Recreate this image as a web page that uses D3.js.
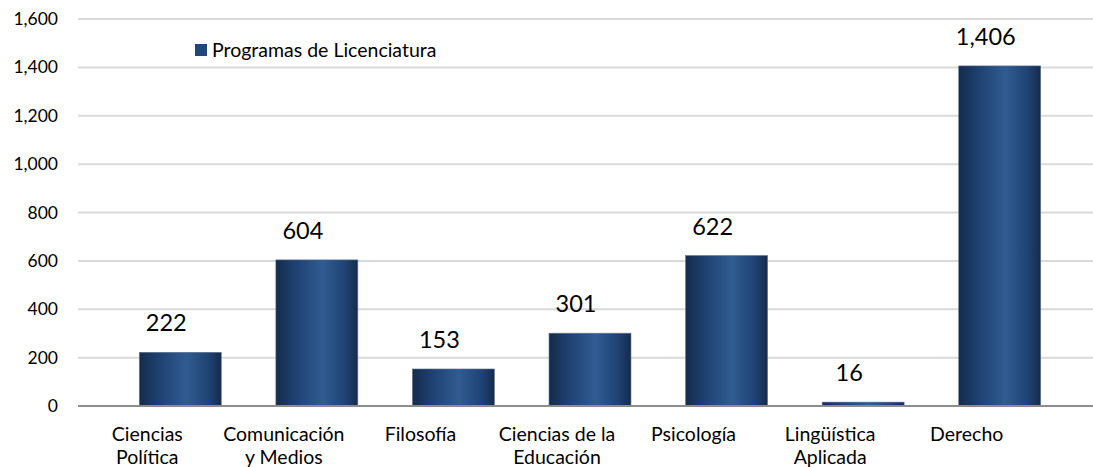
<!DOCTYPE html>
<html>
<head>
<meta charset="utf-8" />
<title></title>
<style>
html, body {
    padding: 0px;
    margin: 0px;
    background: #fff;
}
svg text {
    font-family: Lato, "Open Sans", sans-serif;
    fill: #000;
}
</style>
</head>
<body>
<div id="chart"></div>

<script src="https://cdnjs.cloudflare.com/ajax/libs/d3/7.8.5/d3.min.js"></script>
<script>
!(function(){
    "use strict";

    var categories = ["Ciencias Política", "Comunicación y Medios", "Filosofía",
        "Ciencias de la Educación", "Psicología", "Lingüística Aplicada", "Derecho"];
    var catLines = [["Ciencias", "Política"], ["Comunicación", "y Medios"], ["Filosofía"],
        ["Ciencias de la", "Educación"], ["Psicología"], ["Lingüística", "Aplicada"], ["Derecho"]];
    var values = [222, 604, 153, 301, 622, 16, 1406];
    var yTicks = [0, 200, 400, 600, 800, 1000, 1200, 1400, 1600];
    var seriesName = "Programas de Licenciatura";

    var W = 1093, H = 467;
    var gridLeft = 78, gridRight = 1093;
    var y0 = 406, y1 = 19;

    var svg = d3.select("#chart").append("svg")
        .attr("width", W)
        .attr("height", H);

    var defs = svg.append("defs");
    var grad = defs.append("linearGradient")
        .attr("id", "barGrad")
        .attr("x1", "0%").attr("x2", "100%")
        .attr("y1", "0%").attr("y2", "0%");
    grad.append("stop").attr("offset", "0%").attr("stop-color", "#152b4c");
    grad.append("stop").attr("offset", "25%").attr("stop-color", "#1f4272");
    grad.append("stop").attr("offset", "57%").attr("stop-color", "#305c92");
    grad.append("stop").attr("offset", "85%").attr("stop-color", "#1f4272");
    grad.append("stop").attr("offset", "100%").attr("stop-color", "#152b4c");

    var x = d3.scaleBand()
        .domain(categories)
        .range([112, 1068])
        .paddingInner(0.4)
        .paddingOuter(0.2);

    var y = d3.scaleLinear()
        .domain([0, 1600])
        .range([y0, y1]);

    // grid lines
    svg.append("g")
        .selectAll("line")
        .data(yTicks.filter(function(d){ return d > 0; }))
        .enter()
        .append("line")
        .attr("x1", gridLeft)
        .attr("x2", gridRight)
        .attr("y1", function(d){ return y(d); })
        .attr("y2", function(d){ return y(d); })
        .attr("stroke", "#d9d9d9")
        .attr("stroke-width", 2);

    // y axis labels
    var yAxis = d3.axisLeft(y)
        .tickValues(yTicks)
        .tickSize(0)
        .tickPadding(20)
        .tickFormat(d3.format(","));

    var gy = svg.append("g")
        .attr("transform", "translate(" + gridLeft + ",0)")
        .call(yAxis);
    gy.select(".domain").remove();
    gy.selectAll("text")
        .style("font-family", "Lato, sans-serif")
        .style("font-size", "17.5px")
        .attr("fill", "#000");

    // bars
    svg.append("g")
        .selectAll("rect")
        .data(values)
        .enter()
        .append("rect")
        .attr("x", function(d, i){ return x(categories[i]); })
        .attr("width", x.bandwidth())
        .attr("y", function(d){ return y(d); })
        .attr("height", function(d){ return y0 - y(d); })
        .attr("fill", "url(#barGrad)")
        .attr("stroke", "#5d7191")
        .attr("stroke-width", 0.6);

    // baseline
    svg.append("line")
        .attr("x1", gridLeft)
        .attr("x2", gridRight)
        .attr("y1", y(0))
        .attr("y2", y(0))
        .attr("stroke", "#8c8c8c")
        .attr("stroke-width", 2);

    // value labels
    svg.append("g")
        .selectAll("text")
        .data(values)
        .enter()
        .append("text")
        .attr("x", function(d, i){ return x(categories[i]) + x.bandwidth() / 2 - 14; })
        .attr("y", function(d){ return y(d) - 21; })
        .attr("text-anchor", "middle")
        .style("font-size", "23.5px")
        .text(function(d){ return d3.format(",")(d); });

    // category labels
    var xAxis = d3.axisBottom(x)
        .tickSize(0)
        .tickFormat("");

    var gx = svg.append("g")
        .attr("transform", "translate(-33," + y0 + ")")
        .call(xAxis);
    gx.select(".domain").remove();

    gx.selectAll(".tick").each(function(d, i){
        var t = d3.select(this).append("text")
            .attr("text-anchor", "middle")
            .style("font-size", "19.5px");
        catLines[i].forEach(function(line, j){
            t.append("tspan")
                .attr("x", 0)
                .attr("y", 35 + j * 23)
                .text(line);
        });
    });

    // legend
    var legend = svg.append("g")
        .attr("transform", "translate(195,44)");
    legend.append("rect")
        .attr("width", 12)
        .attr("height", 12)
        .attr("fill", "#1f477a");
    legend.append("text")
        .attr("x", 17)
        .attr("y", 13)
        .style("font-size", "19.5px")
        .text(seriesName);

}());
</script>
</body>
</html>
